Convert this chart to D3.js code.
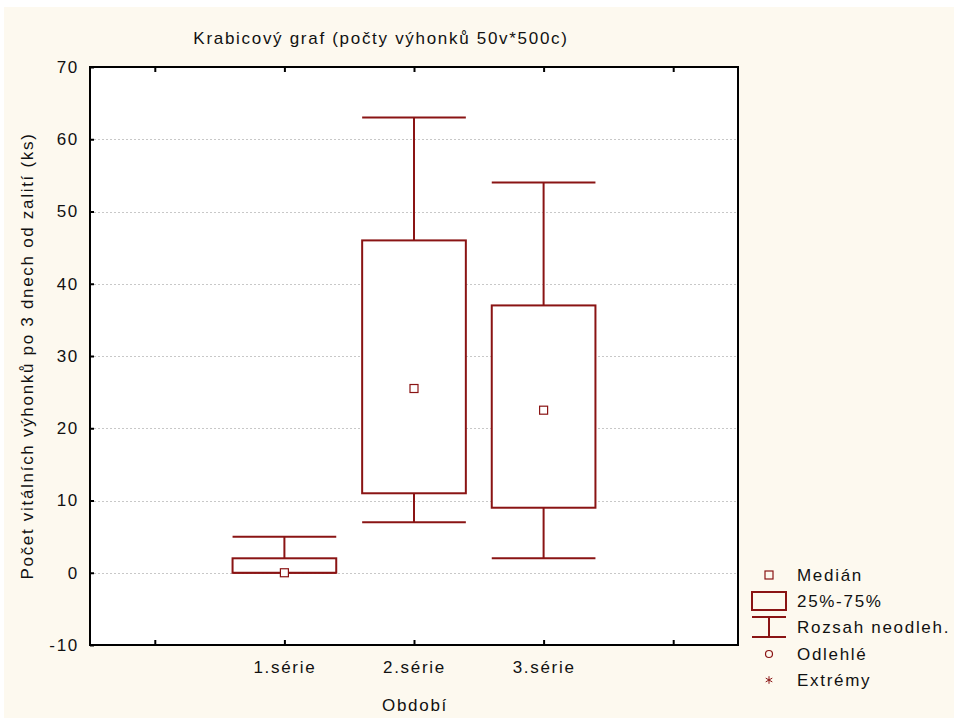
<!DOCTYPE html>
<html>
<head>
<meta charset="utf-8">
<script src="https://cdn.jsdelivr.net/npm/d3@7"></script>
<style>
  html, body { margin: 0; padding: 0; background: #ffffff; }
  svg { display: block; }
  text { font-family: "Liberation Sans", Arial, sans-serif; fill: #111; letter-spacing: 1.7px; }
</style>
</head>
<body>
<svg id="chart" width="954" height="718"></svg>
<script>
// Categories on the x axis (empty slots at both ends give the extra ticks)
const slots = ["_a", "1.série", "2.série", "3.série", "_b"];
const categories = ["1.série", "2.série", "3.série"];
// Box statistics per series
const minimum = [0, 7, 2];
const q1 = [0, 11, 9];
const median = [0, 25.5, 22.5];
const q3 = [2, 46, 37];
const maximum = [5, 63, 54];
const yTicks = [-10, 0, 10, 20, 30, 40, 50, 60, 70];
const legendItems = ["Medián", "25%-75%", "Rozsah neodleh.", "Odlehlé", "Extrémy"];

const RED = "#8a1414";
const FS = "17px";
const svg = d3.select("#chart");

// panel background
svg.append("rect").attr("x", 4).attr("y", 7).attr("width", 950).attr("height", 711)
  .attr("fill", "#fdf9ef");

const m = { left: 90, top: 67, right: 738, bottom: 645 };
svg.append("rect").attr("x", m.left).attr("y", m.top)
  .attr("width", m.right - m.left).attr("height", m.bottom - m.top).attr("fill", "#ffffff");

const x = d3.scalePoint().domain(slots).range([m.left, m.right]).padding(0.5);
const y = d3.scaleLinear().domain([-10, 70]).range([m.bottom, m.top]);
const boxW = x.step() * 0.8;

// dotted grid lines
svg.append("g").selectAll("line").data(yTicks.filter(t => t > -10 && t < 70)).join("line")
  .attr("x1", m.left).attr("x2", m.right)
  .attr("y1", d => Math.round(y(d)) + 0.5).attr("y2", d => Math.round(y(d)) + 0.5)
  .attr("stroke", "#c8c8c8").attr("stroke-width", 1).attr("stroke-dasharray", "2,2");

// axes with inward ticks
const yAxis = d3.axisLeft(y).tickValues(yTicks).tickSize(-4).tickPadding(11)
  .tickFormat(d => String(d));
const gy = svg.append("g").attr("transform", `translate(${m.left},0)`).call(yAxis);
gy.select(".domain").remove();
gy.selectAll(".tick line").attr("stroke", "#000").attr("stroke-width", 2);
gy.selectAll(".tick text").style("font-size", FS).attr("fill", "#111");

const xAxis = d3.axisBottom(x).tickSize(-5).tickPadding(16)
  .tickFormat(d => d.startsWith("_") ? "" : d);
const gx = svg.append("g").attr("transform", `translate(0,${m.bottom})`).call(xAxis);
gx.select(".domain").remove();
gx.selectAll(".tick line").attr("stroke", "#000").attr("stroke-width", 2);
gx.selectAll(".tick text").style("font-size", FS).attr("fill", "#111");

const xTop = d3.axisTop(x).tickSize(-5).tickFormat("");
const gt = svg.append("g").attr("transform", `translate(0,${m.top})`).call(xTop);
gt.select(".domain").remove();
gt.selectAll(".tick line").attr("stroke", "#000").attr("stroke-width", 2);

// frame
svg.append("rect").attr("x", m.left).attr("y", m.top)
  .attr("width", m.right - m.left).attr("height", m.bottom - m.top)
  .attr("fill", "none").attr("stroke", "#000").attr("stroke-width", 2);

// boxes
const data = categories.map((c, i) => ({ c, min: minimum[i], q1: q1[i], med: median[i], q3: q3[i], max: maximum[i] }));
const g = svg.append("g");
data.forEach(d => {
  const cx = x(d.c);
  const gg = g.append("g").attr("stroke", RED).attr("stroke-width", 2).attr("fill", "none");
  // whiskers
  gg.append("line").attr("x1", cx).attr("x2", cx).attr("y1", y(d.max)).attr("y2", y(d.q3));
  gg.append("line").attr("x1", cx).attr("x2", cx).attr("y1", y(d.q1)).attr("y2", y(d.min));
  gg.append("line").attr("x1", cx - boxW / 2).attr("x2", cx + boxW / 2).attr("y1", y(d.max)).attr("y2", y(d.max));
  gg.append("line").attr("x1", cx - boxW / 2).attr("x2", cx + boxW / 2).attr("y1", y(d.min)).attr("y2", y(d.min));
  // box
  gg.append("rect").attr("x", cx - boxW / 2).attr("y", y(d.q3))
    .attr("width", boxW).attr("height", y(d.q1) - y(d.q3)).attr("fill", "#fff");
  // median marker
  g.append("rect").attr("x", cx - 4).attr("y", y(d.med) - 4).attr("width", 8).attr("height", 8)
    .attr("fill", "#fff").attr("stroke", RED).attr("stroke-width", 1.2);
});

// title and axis labels
svg.append("text").attr("x", 381).attr("y", 44).attr("text-anchor", "middle")
  .style("font-size", FS).text("Krabicový graf (počty výhonků 50v*500c)");
svg.append("text").attr("x", (m.left + m.right) / 2 + 1).attr("y", 711).attr("text-anchor", "middle")
  .style("font-size", FS).text("Období");
svg.append("text").attr("transform", `translate(33,${(m.top + m.bottom) / 2}) rotate(-90)`)
  .attr("text-anchor", "middle").style("font-size", FS)
  .text("Počet vitálních výhonků po 3 dnech od zalití (ks)");

// legend
const lg = svg.append("g");
const lx = 769, ltx = 797;
const rows = [575, 601, 627, 654, 680];
lg.append("rect").attr("x", lx - 4).attr("y", rows[0] - 4).attr("width", 8).attr("height", 8)
  .attr("fill", "none").attr("stroke", RED).attr("stroke-width", 1.2);
lg.append("rect").attr("x", 752).attr("y", rows[1] - 9).attr("width", 34).attr("height", 18)
  .attr("fill", "none").attr("stroke", RED).attr("stroke-width", 2);
lg.append("line").attr("x1", 752).attr("x2", 786).attr("y1", rows[2] - 10).attr("y2", rows[2] - 10)
  .attr("stroke", RED).attr("stroke-width", 2);
lg.append("line").attr("x1", 752).attr("x2", 786).attr("y1", rows[2] + 10).attr("y2", rows[2] + 10)
  .attr("stroke", RED).attr("stroke-width", 2);
lg.append("line").attr("x1", lx).attr("x2", lx).attr("y1", rows[2] - 10).attr("y2", rows[2] + 10)
  .attr("stroke", RED).attr("stroke-width", 2);
lg.append("circle").attr("cx", lx).attr("cy", rows[3]).attr("r", 3.5)
  .attr("fill", "none").attr("stroke", RED).attr("stroke-width", 1.2);
lg.append("path").attr("d", d3.symbol().type(d3.symbolAsterisk).size(40)())
  .attr("transform", `translate(${lx},${rows[4]})`)
  .attr("fill", "none").attr("stroke", RED).attr("stroke-width", 1);
lg.selectAll("text.l").data(legendItems).join("text").attr("class", "l")
  .attr("x", ltx).attr("y", (d, i) => rows[i] + 6).style("font-size", FS).text(d => d);
</script>
</body>
</html>
